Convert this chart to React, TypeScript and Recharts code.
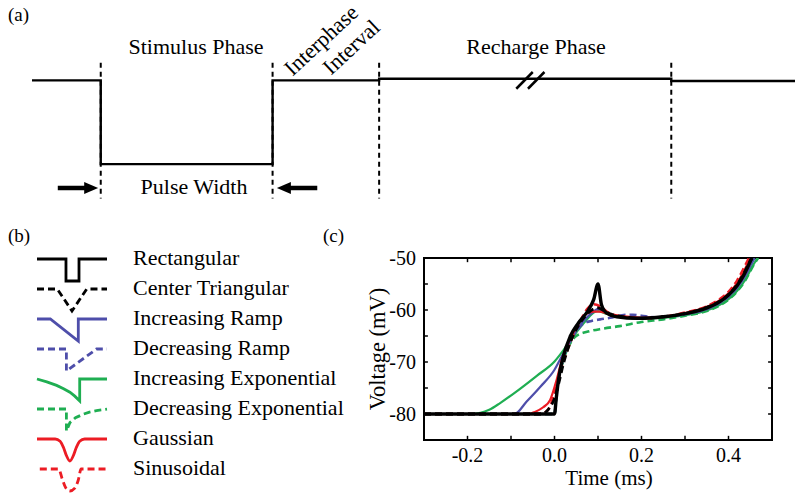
import React from 'react';
import { LineChart, Line, XAxis, YAxis, ReferenceLine, ReferenceArea } from 'recharts';

const SERIF = '"Liberation Serif", "Times New Roman", serif';

// ---- panel (a): schematic biphasic pulse (time in pulse widths, level in pulse amplitudes)
const waveT = [-0.4, 0, 0, 1, 1, 1.62, 1.62, 3.32, 3.32, 4.04];
const waveV = [0, 0, -1, -1, 0, 0, 0.02, 0.02, -0.007, -0.007];
const phaseBounds = [0, 1, 1.62, 3.32];
const breakAt = 2.5;
const pulseArrows = [
  { from: -0.25, to: -0.015 },
  { from: 1.26, to: 1.025 },
];

// ---- panel (b): waveform glyphs (x fraction of glyph width, y fraction of depth)
const glyphNames = [
  'Rectangular',
  'Center Triangular',
  'Increasing Ramp',
  'Decreasing Ramp',
  'Increasing Exponential',
  'Decreasing Exponential',
  'Gaussian',
  'Sinusoidal',
];
const rectGlyph = [[0, 0], [0.414, 0], [0.414, -1], [0.6, -1], [0.6, 0], [1, 0]];
const triGlyph = [[0, 0], [0.29, 0], [0.5, -1], [0.71, 0], [1, 0]];
const incRampGlyph = [[0, 0], [0.19, 0], [0.59, -1], [0.59, 0], [1, 0]];
const decRampGlyph = [[0, 0], [0.42, 0], [0.42, -1], [0.85, 0], [1, 0]];
const incExpGlyph = [[0, 0], [0.14, -0.13], [0.28, -0.29], [0.38, -0.44], [0.47, -0.6], [0.54, -0.78], [0.61, -1], [0.61, 0], [1, 0]];
const decExpGlyph = [[0, 0], [0.42, 0], [0.42, -1], [0.47, -0.62], [0.55, -0.4], [0.65, -0.25], [0.75, -0.14], [0.85, -0.07], [1, -0.01]];
const gaussGlyph = [[0, 0], [0.26, 0], [0.33, -0.1], [0.38, -0.4], [0.42, -0.75], [0.47, -1], [0.52, -0.75], [0.56, -0.4], [0.61, -0.1], [0.68, 0], [1, 0]];
const sineGlyph = [[0.04, 0], [0.31, 0], [0.36, -0.45], [0.41, -0.85], [0.47, -1], [0.54, -0.87], [0.59, -0.5], [0.63, 0], [1, 0]];

// ---- panel (c): membrane voltage (t in ms, v in mV)
const rectangular = [
  [-0.3, -80], [0, -80], [0.004, -77], [0.009, -73.5], [0.02, -69], [0.036, -65.1], [0.055, -62.5],
  [0.078, -60], [0.09, -58], [0.1, -55], [0.108, -59], [0.12, -60.6], [0.143, -61.3], [0.19, -61.6],
  [0.25, -61.3], [0.3, -60.7], [0.35, -59.6], [0.38, -58.4], [0.4, -57.1], [0.42, -55.3],
  [0.435, -53.3], [0.445, -51.6], [0.453, -50],
];
const centerTriangular = [
  [-0.3, -80], [-0.03, -80], [-0.015, -79.2], [0, -77], [0.01, -74], [0.02, -70.5], [0.035, -66.5],
  [0.055, -63], [0.075, -60.8], [0.09, -59.8], [0.1, -59.6], [0.115, -60.2], [0.13, -60.8],
  [0.16, -61.3], [0.2, -61.6], [0.25, -61.3], [0.3, -60.7], [0.35, -59.5], [0.38, -58.3],
  [0.4, -57], [0.42, -55.1], [0.435, -53], [0.446, -51.2], [0.455, -50],
];
const increasingRamp = [
  [-0.3, -80], [-0.092, -80], [-0.064, -77.6], [-0.033, -74.8], [0, -71.5], [0.015, -69.2],
  [0.03, -67], [0.05, -64], [0.07, -61.8], [0.09, -60.3], [0.1, -59.8], [0.115, -60.4],
  [0.14, -61.1], [0.18, -61.5], [0.25, -61.3], [0.3, -60.8], [0.35, -59.8], [0.38, -58.6],
  [0.4, -57.4], [0.42, -55.7], [0.44, -53.2], [0.452, -51.2], [0.458, -50],
];
const decreasingRamp = [
  [-0.3, -80], [0, -80], [0.004, -77], [0.009, -73.5], [0.02, -69.5], [0.035, -66], [0.05, -64],
  [0.066, -62.6], [0.085, -62.1], [0.105, -61.8], [0.128, -61.5], [0.155, -61], [0.18, -60.9],
  [0.2, -61.1], [0.23, -61.4], [0.27, -61.2], [0.3, -60.8], [0.35, -59.8], [0.38, -58.6],
  [0.4, -57.4], [0.42, -55.6], [0.44, -53], [0.453, -51], [0.46, -50],
];
const increasingExp = [
  [-0.3, -80], [-0.19, -80], [-0.15, -79.2], [-0.125, -77.9], [-0.08, -75.2], [-0.04, -72.6],
  [0, -69.9], [0.02, -67.8], [0.043, -65.1], [0.074, -61.9], [0.09, -60.5], [0.1, -60.2],
  [0.115, -60.6], [0.14, -61.2], [0.18, -61.6], [0.25, -61.5], [0.3, -61], [0.35, -60.1],
  [0.38, -59], [0.4, -57.9], [0.42, -56.3], [0.44, -54], [0.455, -51.6], [0.467, -50],
];
const decreasingExp = [
  [-0.3, -80], [0, -80], [0.004, -77], [0.009, -73.5], [0.02, -69.8], [0.035, -66.6], [0.05, -65],
  [0.08, -64.1], [0.11, -63.6], [0.15, -63.1], [0.2, -62.3], [0.25, -61.8], [0.3, -61.1],
  [0.35, -60.2], [0.38, -59.1], [0.4, -58], [0.42, -56.4], [0.44, -54.1], [0.456, -51.6], [0.468, -50],
];
const gaussian = [
  [-0.3, -80], [-0.06, -80], [-0.045, -79.6], [-0.026, -78.7], [-0.01, -77.3], [0.005, -73.4],
  [0.017, -69.6], [0.028, -67], [0.047, -63.8], [0.07, -60.9], [0.089, -60.3], [0.105, -60.3],
  [0.128, -60.9], [0.158, -61.2], [0.2, -61.5], [0.25, -61.3], [0.3, -60.6], [0.35, -59.4],
  [0.38, -58.1], [0.4, -56.8], [0.42, -54.8], [0.435, -52.6], [0.45, -50],
];
const sinusoidal = [
  [-0.3, -80], [-0.04, -80], [-0.02, -79.6], [-0.01, -78.5], [0, -76], [0.01, -73], [0.02, -70],
  [0.04, -65.5], [0.06, -62], [0.075, -59.8], [0.09, -58.9], [0.105, -59.3], [0.12, -60.3],
  [0.14, -61], [0.17, -61.4], [0.2, -61.6], [0.25, -61.3], [0.3, -60.5], [0.35, -59.3],
  [0.38, -57.9], [0.4, -56.5], [0.42, -54.3], [0.435, -52], [0.447, -50],
];

const timeTicks = [-0.2, 0, 0.2, 0.4];
const minorTimeTicks = [-0.2, -0.1, 0, 0.1, 0.2, 0.3, 0.4];
const voltTicks = [-80, -70, -60, -50];
const minorVoltTicks = [-80, -75, -70, -65, -60, -55];

const BLUE = '#4e4eaa';
const GREEN = '#1fae52';
const RED = '#ec1c24';

const pts = (pairs: number[][]) => pairs.map(([t, v]) => ({ t, v }));

const series = [
  { name: 'Decreasing Exponential', data: decreasingExp, color: GREEN, dash: true, width: 2.6 },
  { name: 'Increasing Exponential', data: increasingExp, color: GREEN, dash: false, width: 2.2 },
  { name: 'Decreasing Ramp', data: decreasingRamp, color: BLUE, dash: true, width: 2.6 },
  { name: 'Increasing Ramp', data: increasingRamp, color: BLUE, dash: false, width: 2.2 },
  { name: 'Sinusoidal', data: sinusoidal, color: RED, dash: true, width: 2.6 },
  { name: 'Gaussian', data: gaussian, color: RED, dash: false, width: 2.2 },
  { name: 'Center Triangular', data: centerTriangular, color: '#000', dash: true, width: 2.8 },
  { name: 'Rectangular', data: rectangular, color: '#000', dash: false, width: 3.4 },
];

const glyphs = [
  { data: rectGlyph, color: '#000', dash: false, curve: 'linear' },
  { data: triGlyph, color: '#000', dash: true, curve: 'linear' },
  { data: incRampGlyph, color: BLUE, dash: false, curve: 'linear' },
  { data: decRampGlyph, color: BLUE, dash: true, curve: 'linear' },
  { data: incExpGlyph, color: GREEN, dash: false, curve: 'linear' },
  { data: decExpGlyph, color: GREEN, dash: true, curve: 'linear' },
  { data: gaussGlyph, color: RED, dash: false, curve: 'monotone' },
  { data: sineGlyph, color: RED, dash: true, curve: 'monotone' },
];

function arrowShape(props: any) {
  const { x1, y1, x2, y2 } = props;
  const dir = Math.sign(x2 - x1) || 1;
  const head = 14;
  const half = 6;
  return (
    <g>
      <line x1={x1} y1={y1} x2={x2 - dir * head * 0.7} y2={y2} stroke="#000" strokeWidth={4.5} />
      <polygon
        points={`${x2},${y2} ${x2 - dir * head},${y2 - half} ${x2 - dir * head},${y2 + half}`}
        fill="#000"
      />
    </g>
  );
}

function PhaseDiagram() {
  const wave = waveT.map((t, i) => ({ t, v: waveV[i] }));
  return (
    <div style={{ position: 'absolute', left: 0, top: 0 }}>
      <LineChart width={800} height={210} margin={{ top: 5, right: 5, bottom: 4, left: 32 }}>
        <XAxis dataKey="t" type="number" domain={[-0.4, 4.04]} hide />
        <YAxis type="number" domain={[-1.5, 0.9]} hide />
        {phaseBounds.map((b) => (
          <ReferenceLine
            key={b}
            segment={[{ x: b, y: 0.21 }, { x: b, y: -1.41 }]}
            stroke="#000"
            strokeWidth={2}
            strokeDasharray="5 4"
          />
        ))}
        <Line
          data={wave}
          dataKey="v"
          type="linear"
          stroke="#000"
          strokeWidth={2.4}
          dot={false}
          isAnimationActive={false}
        />
        {[-0.034, 0.034].map((o) => (
          <ReferenceLine
            key={o}
            segment={[{ x: breakAt + o - 0.048, y: -0.1 }, { x: breakAt + o + 0.048, y: 0.1 }]}
            stroke="#000"
            strokeWidth={2.5}
          />
        ))}
        {pulseArrows.map((a) => (
          <ReferenceLine
            key={a.from}
            segment={[{ x: a.from, y: -1.285 }, { x: a.to, y: -1.285 }]}
            shape={arrowShape}
          />
        ))}
      </LineChart>
    </div>
  );
}

function Glyph({ g, top }: { g: any; top: number }) {
  return (
    <div style={{ position: 'absolute', left: 35, top }}>
      <LineChart width={74} height={30} margin={{ top: 3, right: 2, bottom: 5, left: 2 }}>
        <XAxis dataKey="t" type="number" domain={[0, 1]} hide />
        <YAxis type="number" domain={[-1, 0]} hide />
        <Line
          data={pts(g.data)}
          dataKey="v"
          type={g.curve}
          stroke={g.color}
          strokeWidth={2.8}
          strokeDasharray={g.dash ? '7 4' : undefined}
          dot={false}
          isAnimationActive={false}
        />
      </LineChart>
    </div>
  );
}

function VoltageChart() {
  const tickStyle = { fontFamily: SERIF, fontSize: 20, fill: '#000' };
  return (
    <div style={{ position: 'absolute', left: 330, top: 240 }}>
      <LineChart width={460} height={260} margin={{ top: 18, right: 18, bottom: 0, left: 0 }}>
        <XAxis
          dataKey="t"
          type="number"
          domain={[-0.3, 0.5]}
          ticks={timeTicks}
          tickFormatter={(v: number) => v.toFixed(1)}
          tickLine={false}
          axisLine={false}
          tick={tickStyle}
          height={60}
          allowDataOverflow
          label={{ value: 'Time (ms)', position: 'center', dx: 11, dy: 8, style: { fontFamily: SERIF, fontSize: 21, fill: '#000' } }}
        />
        <YAxis
          type="number"
          domain={[-85, -50]}
          ticks={voltTicks}
          tickLine={false}
          axisLine={false}
          tick={tickStyle}
          width={94}
          allowDataOverflow
          label={{ value: 'Voltage (mV)', angle: -90, position: 'center', style: { fontFamily: SERIF, fontSize: 22.5, fill: '#000' } }}
        />
        <ReferenceArea x1={-0.3} x2={0.5} y1={-85} y2={-50} fill="none" stroke="#000" strokeWidth={2} />
        {minorTimeTicks.map((t) => (
          <ReferenceLine key={'b' + t} segment={[{ x: t, y: -85 }, { x: t, y: -84.2 }]} stroke="#000" strokeWidth={1.5} />
        ))}
        {minorTimeTicks.map((t) => (
          <ReferenceLine key={'t' + t} segment={[{ x: t, y: -50 }, { x: t, y: -50.8 }]} stroke="#000" strokeWidth={1.5} />
        ))}
        {minorVoltTicks.map((v) => (
          <ReferenceLine key={'l' + v} segment={[{ x: -0.3, y: v }, { x: -0.291, y: v }]} stroke="#000" strokeWidth={1.5} />
        ))}
        {minorVoltTicks.map((v) => (
          <ReferenceLine key={'r' + v} segment={[{ x: 0.5, y: v }, { x: 0.491, y: v }]} stroke="#000" strokeWidth={1.5} />
        ))}
        {series.map((s) => (
          <Line
            key={s.name}
            name={s.name}
            data={pts(s.data)}
            dataKey="v"
            type="monotone"
            stroke={s.color}
            strokeWidth={s.width}
            strokeDasharray={s.dash ? '7 4' : undefined}
            dot={false}
            isAnimationActive={false}
          />
        ))}
      </LineChart>
    </div>
  );
}

export default function App() {
  return (
    <div style={{ position: 'absolute', left: 0, top: 0, width: 800, height: 504, background: '#fff', overflow: 'hidden' }}>
      <PhaseDiagram />
      {glyphs.map((g, i) => (
        <Glyph key={i} g={g} top={256 + i * 30} />
      ))}
      <VoltageChart />
      <svg width={800} height={504} style={{ position: 'absolute', left: 0, top: 0, pointerEvents: 'none' }}>
        <g fontFamily={SERIF} fill="#000">
          <text x={8} y={21} fontSize={19}>(a)</text>
          <text x={8} y={242} fontSize={19}>(b)</text>
          <text x={323} y={242} fontSize={19}>(c)</text>
          <text x={196} y={54} fontSize={22} textAnchor="middle">Stimulus Phase</text>
          <text x={536} y={54} fontSize={22} textAnchor="middle">Recharge Phase</text>
          <text x={194} y={194} fontSize={22} textAnchor="middle">Pulse Width</text>
          <text transform="translate(321,40) rotate(-43)" fontSize={22} textAnchor="middle" dominantBaseline="central">Interphase</text>
          <text transform="translate(351,47) rotate(-43)" fontSize={22} textAnchor="middle" dominantBaseline="central">Interval</text>
          {glyphNames.map((n, i) => (
            <text key={n} x={133} y={265 + i * 30} fontSize={22}>{n}</text>
          ))}
        </g>
      </svg>
    </div>
  );
}
